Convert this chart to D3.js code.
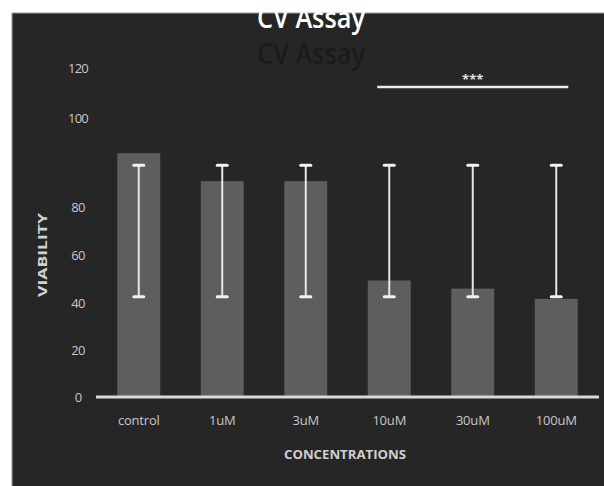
<!DOCTYPE html>
<html><head><meta charset="utf-8">
<script src="https://cdn.jsdelivr.net/npm/d3@7"></script>
<style>
html,body{margin:0;padding:0;background:#fff;}
svg{display:block;}
text{font-family:"Open Sans","Liberation Sans",sans-serif;}
</style></head>
<body>
<script>
const categories = ["control","1uM","3uM","10uM","30uM","100uM"];
const viability = [92.1, 85.8, 85.8, 49.4, 46.0, 41.7];
const errLow = [42.6, 42.6, 42.6, 42.6, 42.6, 42.6];
const errHigh = [89.4, 89.4, 89.4, 89.4, 89.4, 89.4];
const yTicks = [0, 20, 40, 60, 80, 100, 120];
const sigFrom = "10uM", sigTo = "100uM", sigLabel = "***";
const title = "CV Assay";

const W = 604, H = 486;
const svg = d3.select("body").append("svg").attr("width", W).attr("height", H);

// panel
svg.append("rect").attr("x", 12).attr("y", 13).attr("width", W - 12).attr("height", H - 13)
  .attr("fill", "#262626");
svg.append("line").attr("x1", 12).attr("x2", 12).attr("y1", 13).attr("y2", H)
  .attr("stroke", "#9a9a9a").attr("stroke-width", 1.2);
svg.append("line").attr("x1", 12).attr("x2", W).attr("y1", 13).attr("y2", 13)
  .attr("stroke", "#9a9a9a").attr("stroke-width", 1.2);

// scales (axis labels in the source are unevenly spaced)
const x = d3.scaleBand().domain(categories).range([97, 598]).paddingInner(0.485).paddingOuter(0.2425);
const y = d3.scaleLinear().domain(yTicks).range([397, 350, 303, 255, 207, 118, 68]);

// ghost title
svg.append("text").attr("x", 311).attr("y", 64).attr("text-anchor", "middle")
  .attr("font-size", 29).attr("font-weight", 600).attr("fill", "#1b1b1b").attr("textLength", 108)
  .attr("lengthAdjust", "spacingAndGlyphs").text(title);

// bars
svg.append("g").selectAll("rect").data(categories).join("rect")
  .attr("x", d => x(d)).attr("width", x.bandwidth())
  .attr("y", (d, i) => y(viability[i]))
  .attr("height", (d, i) => y(0) - y(viability[i]))
  .attr("fill", "#5e5e5e");

// error bars
const eg = svg.append("g");
categories.forEach((c, i) => {
  const cx = x(c) + x.bandwidth() / 2;
  eg.append("line").attr("x1", cx).attr("x2", cx).attr("y1", y(errHigh[i])).attr("y2", y(errLow[i]))
    .attr("stroke", "#e6e6e6").attr("stroke-width", 2);
  [errHigh[i], errLow[i]].forEach(v => {
    eg.append("line").attr("x1", cx - 5).attr("x2", cx + 5).attr("y1", y(v)).attr("y2", y(v))
      .attr("stroke", "#f2f2f2").attr("stroke-width", 3).attr("stroke-linecap", "round");
  });
});

// x axis line
svg.append("line").attr("x1", 96).attr("x2", 599).attr("y1", y(0)).attr("y2", y(0))
  .attr("stroke", "#d9d9d9").attr("stroke-width", 3);

// y axis labels
const yAxis = d3.axisLeft(y).tickValues(yTicks).tickSize(0).tickPadding(0);
const yg = svg.append("g").attr("transform", "translate(86,0)").call(yAxis);
yg.select(".domain").remove();
yg.selectAll("text").attr("font-size", 13).attr("fill", "#c8c8c8")
  .attr("font-family", "'Open Sans',sans-serif").attr("text-anchor", "middle").attr("x", -8)
  .attr("letter-spacing", -0.8);

// x axis labels
const xAxis = d3.axisBottom(x).tickSize(0).tickPadding(0);
const xg = svg.append("g").attr("transform", "translate(0,416)").call(xAxis);
xg.select(".domain").remove();
xg.selectAll("text").attr("font-size", 13).attr("fill", "#c8c8c8")
  .attr("font-family", "'Open Sans',sans-serif").attr("letter-spacing", -0.2);

// axis titles
svg.append("text").attr("x", 345).attr("y", 459).attr("text-anchor", "middle")
  .attr("font-size", 12).attr("font-weight", "bold").attr("fill", "#d0d0d0")
  .attr("textLength", 122).attr("lengthAdjust", "spacingAndGlyphs").text("CONCENTRATIONS");
svg.append("text").attr("transform", "translate(47,255) rotate(-90)").attr("text-anchor", "middle")
  .attr("font-size", 12).attr("font-weight", "bold").attr("fill", "#d0d0d0")
  .attr("textLength", 84).attr("lengthAdjust", "spacingAndGlyphs").text("VIABILITY");

// significance
const sx1 = x(sigFrom) + x.bandwidth() / 2 - 12, sx2 = x(sigTo) + x.bandwidth() / 2 + 12;
svg.append("line").attr("x1", sx1).attr("x2", sx2).attr("y1", 87).attr("y2", 87)
  .attr("stroke", "#ededed").attr("stroke-width", 2.5);
svg.append("text").attr("x", (sx1 + sx2) / 2).attr("y", 84).attr("text-anchor", "middle")
  .attr("font-size", 13).attr("font-weight", "bold").attr("fill", "#e0e0e0").text(sigLabel);

// title (top clipped against white page)
svg.append("text").attr("x", 311).attr("y", 28).attr("text-anchor", "middle")
  .attr("font-size", 29).attr("font-weight", 600).attr("fill", "#ffffff").attr("textLength", 108)
  .attr("lengthAdjust", "spacingAndGlyphs").text(title);
svg.append("rect").attr("x", 0).attr("y", 0).attr("width", W).attr("height", 12).attr("fill", "#fff");
</script>
</body></html>
